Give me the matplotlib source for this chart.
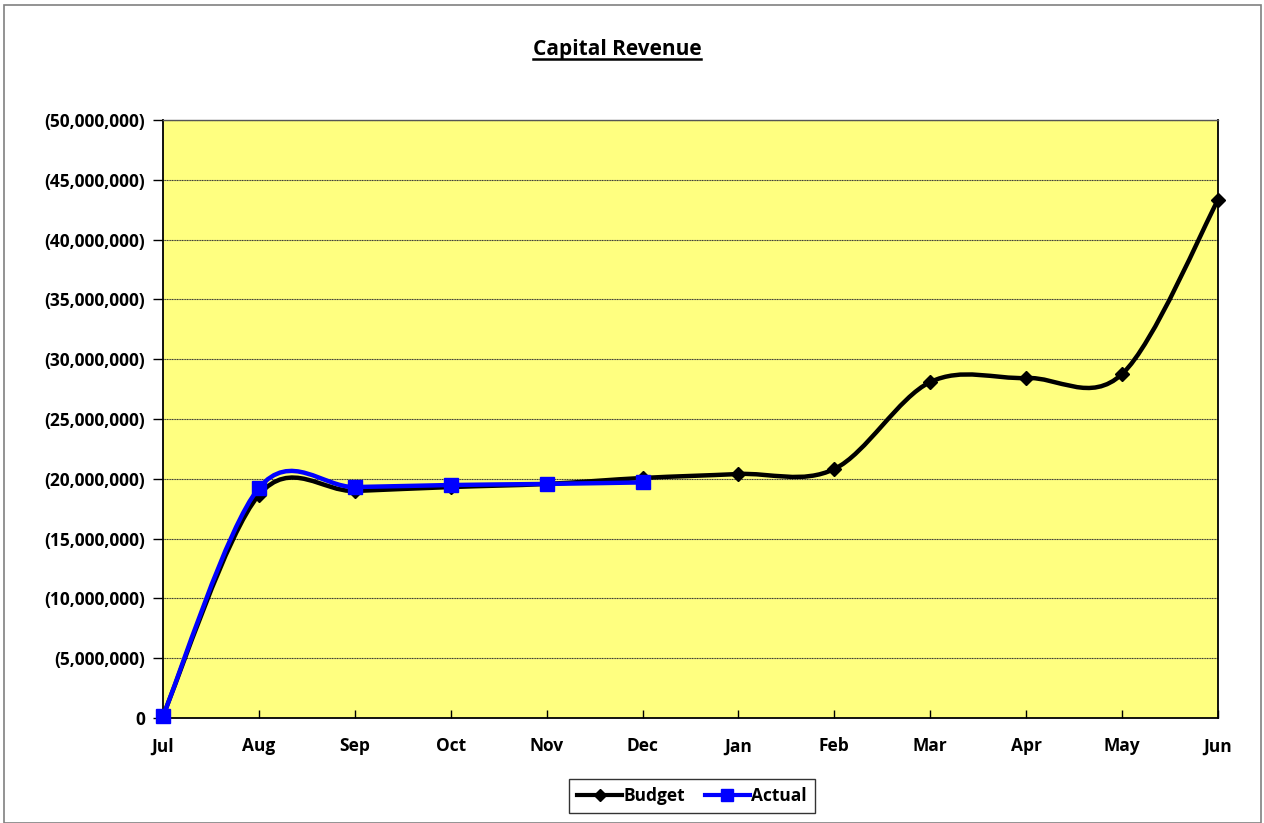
import matplotlib
matplotlib.use("Agg")
import matplotlib.pyplot as plt
import numpy as np
from matplotlib.path import Path
from matplotlib.patches import PathPatch, Rectangle
from matplotlib.ticker import FuncFormatter, MultipleLocator

plt.rcParams['font.family'] = ['Open Sans', 'DejaVu Sans']
plt.rcParams['font.weight'] = 'bold'

months = ["Jul", "Aug", "Sep", "Oct", "Nov", "Dec", "Jan", "Feb", "Mar", "Apr", "May", "Jun"]
budget = [200000, 18650000, 18980000, 19310000, 19570000, 20070000, 20400000,
          20820000, 28090000, 28430000, 28760000, 43310000]
actual = [170000, 19230000, 19310000, 19480000, 19570000, 19700000]

title = "Capital Revenue"


def smooth_path(xs, ys):
    """Excel-style smoothed line as cubic Bezier path through the data points."""
    pts = np.column_stack([xs, ys]).astype(float)
    n = len(pts)
    verts = [pts[0]]
    codes = [Path.MOVETO]
    for i in range(n - 1):
        p0 = pts[i - 1] if i > 0 else pts[i]
        p1 = pts[i]
        p2 = pts[i + 1]
        p3 = pts[i + 2] if i + 2 < n else pts[i + 1]
        c1 = p1 + (p2 - p0) / 6.0
        c2 = p2 - (p3 - p1) / 6.0
        verts += [c1, c2, p2]
        codes += [Path.CURVE4] * 3
    return Path(verts, codes)


fig = plt.figure(figsize=(12.64, 8.23), dpi=100)
fig.patch.set_facecolor("white")
fig.patches.append(Rectangle((0.003, 0.0), 0.995, 0.994, transform=fig.transFigure,
                             fill=False, edgecolor="#808080", linewidth=1.2))

ax = fig.add_axes([163 / 1264, 1 - 718 / 823, (1218 - 163) / 1264, (718 - 120) / 823])
ax.set_facecolor("#FFFF80")

x_b = np.arange(len(budget))
x_a = np.arange(len(actual))

ax.add_patch(PathPatch(smooth_path(x_b, budget), fill=False, edgecolor="black",
                       linewidth=3.2, zorder=3, capstyle="round", clip_on=False))
ax.plot(x_b, budget, linestyle="none", marker="D", markersize=7, color="black",
        zorder=4, clip_on=False)

ax.add_patch(PathPatch(smooth_path(x_a, actual), fill=False, edgecolor="#0000FF",
                       linewidth=3.2, zorder=5, capstyle="round", clip_on=False))
ax.plot(x_a, actual, linestyle="none", marker="s", markersize=10, color="#0000FF",
        zorder=6, clip_on=False)

# legend proxies
ax.plot([], [], color="black", linewidth=3, marker="D", markersize=6, label="Budget")
ax.plot([], [], color="#0000FF", linewidth=3, marker="s", markersize=8, label="Actual")

ax.set_xlim(0, len(months) - 1)
ax.set_ylim(0, 50000000)
ax.set_xticks(x_b)
ax.set_xticklabels(months)
ax.yaxis.set_major_locator(MultipleLocator(5000000))
ax.yaxis.set_major_formatter(FuncFormatter(lambda v, p: "0" if v == 0 else "({:,.0f})".format(v)))

ax.grid(axis="y", color="#333333", linewidth=0.8, linestyle=(0, (1, 0.5)))
ax.set_axisbelow(True)
ax.tick_params(axis="y", direction="out", length=7, width=1, labelsize=12.5, pad=6)
ax.tick_params(axis="x", direction="in", length=6, width=1, labelsize=12.5, pad=14)
for lab in ax.get_xticklabels() + ax.get_yticklabels():
    lab.set_fontweight("bold")

for side in ["left", "bottom", "right"]:
    ax.spines[side].set_color("black")
    ax.spines[side].set_linewidth(1.3)
ax.spines["top"].set_color("#555555")
ax.spines["top"].set_linewidth(1.0)

fig.text(617 / 1264, 1 - 49 / 823, title, ha="center", va="center", fontsize=15,
         fontweight="bold")
# underline for the title
t = fig.texts[-1]
fig.canvas.draw()
bb = t.get_window_extent()
fig.add_artist(plt.Line2D([bb.x0 / 1264, bb.x1 / 1264], [(bb.y0 + 1) / 823, (bb.y0 + 1) / 823],
                          transform=fig.transFigure, color="black", linewidth=1.8))

leg = fig.legend(loc="center", bbox_to_anchor=(692 / 1264, 1 - 796 / 823), ncol=2,
                 frameon=True, fancybox=False, edgecolor="black", fontsize=12.5,
                 handlelength=2.6, columnspacing=1.1, handletextpad=0.1,
                 borderpad=0.45, borderaxespad=0)
leg.get_frame().set_linewidth(1.0)
for txt in leg.get_texts():
    txt.set_fontweight("bold")

fig.savefig("out.png", dpi=100)
